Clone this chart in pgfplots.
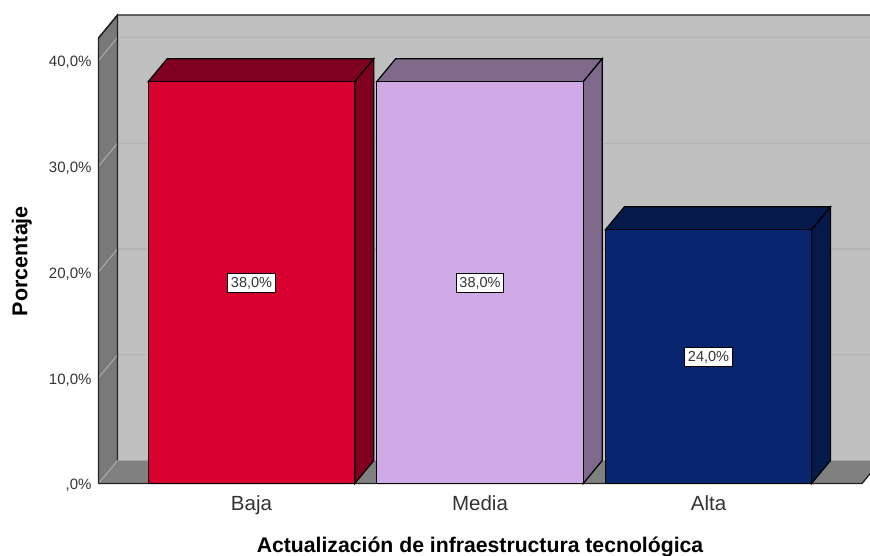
\documentclass[border=0pt]{standalone}
\usepackage{fontspec}
\setmainfont{Liberation Sans}
\usepackage{pgfplots}
\pgfplotsset{compat=1.18}
\definecolor{wallc}{HTML}{C0C0C0}
\definecolor{sidec}{HTML}{797979}
\definecolor{floorc}{HTML}{808080}
\definecolor{gridc}{HTML}{B4B4B4}
\definecolor{gridl}{HTML}{ABABAB}
\definecolor{edgec}{HTML}{222222}
\definecolor{redf}{HTML}{D7002F}
\definecolor{reds}{HTML}{800020}
\definecolor{purf}{HTML}{D0AAE6}
\definecolor{purs}{HTML}{7F6A8C}
\definecolor{navf}{HTML}{07266F}
\definecolor{navs}{HTML}{051A4A}
\definecolor{txt}{HTML}{333333}
\begin{document}
\begin{tikzpicture}[x=1pt,y=1pt]
\path[use as bounding box] (-95,-66) rectangle (775,490);
\begin{axis}[
  at={(0pt,0pt)}, anchor=south west,
  scale only axis, width=775pt, height=485pt,
  xmin=-0.6849, xmax=2.7068, ymin=-0.615, ymax=45.25,
  axis line style={draw=none},
  major tick length=0pt,
  xtick={0,1,2}, xticklabels={Baja,Media,Alta},
  ytick={0,10,20,30,40},
  yticklabels={{,0\%},{10,0\%},{20,0\%},{30,0\%},{40,0\%}},
  x tick label style={font=\fontsize{20.5}{23}\selectfont, text=txt, yshift=-2.5pt},
  y tick label style={font=\fontsize{15}{17}\selectfont, text=txt, yshift=-2pt},
  tick label style={/pgf/number format/assume math mode=true},
  xlabel={Actualización de infraestructura tecnológica},
  ylabel={Porcentaje},
  xlabel style={font=\fontsize{21.2}{24}\selectfont\bfseries, at={(axis description cs:0.4968,-0.1165)}, anchor=center, text=black},
  ylabel style={font=\fontsize{21.5}{24}\selectfont\bfseries, at={(axis description cs:-0.0943,0.472)}, anchor=center, rotate=0, text=black},
  clip=true,
]
% back wall
\addplot[fill=wallc, draw=none] coordinates {(-0.5864,2.175) (3,2.175) (3,44.3) (-0.5864,44.3)} \closedcycle;
% left wall
\addplot[fill=sidec, draw=none] coordinates {(-0.6696,0) (-0.5864,2.175) (-0.5864,44.3) (-0.6696,42.125)} -- cycle;
% floor
\addplot[fill=floorc, draw=none] coordinates {(-0.6696,0) (2.6718,0) (2.755,2.175) (-0.5864,2.175)} -- cycle;
% gridlines on back wall
\addplot[gridc, line width=1.4pt] coordinates {(-0.5864,12.175) (3,12.175)};
\addplot[gridc, line width=1.4pt] coordinates {(-0.5864,22.175) (3,22.175)};
\addplot[gridc, line width=1.4pt] coordinates {(-0.5864,32.175) (3,32.175)};
\addplot[gridc, line width=1.4pt] coordinates {(-0.5864,42.175) (3,42.175)};
% gridlines on left wall
\addplot[gridl, line width=1pt] coordinates {(-0.6696,0) (-0.5864,2.175)};
\addplot[gridl, line width=1pt] coordinates {(-0.6696,10) (-0.5864,12.175)};
\addplot[gridl, line width=1pt] coordinates {(-0.6696,20) (-0.5864,22.175)};
\addplot[gridl, line width=1pt] coordinates {(-0.6696,30) (-0.5864,32.175)};
\addplot[gridl, line width=1pt] coordinates {(-0.6696,40) (-0.5864,42.175)};
% wall outlines
\addplot[edgec, line width=1.3pt] coordinates {(-0.6696,0) (-0.6696,42.125) (-0.5864,44.3) (3,44.3)};
\addplot[edgec, line width=1.3pt] coordinates {(-0.6696,42.125) (-0.5864,44.3) (-0.5864,2.175)};
\addplot[edgec, line width=1.3pt] coordinates {(-0.6696,0) (2.6718,0) (2.755,2.175)};
% Baja
\addplot[fill=reds, draw=black, line width=1.2pt] coordinates {(-0.452,38) (0.452,38) (0.5352,40.175) (-0.3688,40.175)} -- cycle;
\addplot[fill=reds, draw=black, line width=1.2pt] coordinates {(0.452,0) (0.5352,2.175) (0.5352,40.175) (0.452,38)} -- cycle;
\addplot[fill=redf, draw=black, line width=1.2pt] coordinates {(-0.452,0) (0.452,0) (0.452,38) (-0.452,38)} -- cycle;
% Media
\addplot[fill=purs, draw=black, line width=1.2pt] coordinates {(0.548,38) (1.452,38) (1.5352,40.175) (0.6312,40.175)} -- cycle;
\addplot[fill=purs, draw=black, line width=1.2pt] coordinates {(1.452,0) (1.5352,2.175) (1.5352,40.175) (1.452,38)} -- cycle;
\addplot[fill=purf, draw=black, line width=1.2pt] coordinates {(0.548,0) (1.452,0) (1.452,38) (0.548,38)} -- cycle;
% Alta
\addplot[fill=navs, draw=black, line width=1.2pt] coordinates {(1.549,24) (2.451,24) (2.5342,26.175) (1.6322,26.175)} -- cycle;
\addplot[fill=navs, draw=black, line width=1.2pt] coordinates {(2.451,0) (2.5342,2.175) (2.5342,26.175) (2.451,24)} -- cycle;
\addplot[fill=navf, draw=black, line width=1.2pt] coordinates {(1.549,0) (2.451,0) (2.451,24) (1.549,24)} -- cycle;
% value labels
\addplot[draw=none, point meta=explicit symbolic, nodes near coords,
  every node near coord/.style={anchor=center, fill=white, draw=black, line width=1pt,
    font=\fontsize{14.5}{16}\selectfont, text=txt, inner xsep=3pt, inner ysep=3.6pt, yshift=-0.5pt}]
  coordinates {(0,19)[38,0\%] (1,19)[38,0\%] (2,12)[24,0\%]};
\end{axis}
\end{tikzpicture}
\end{document}
